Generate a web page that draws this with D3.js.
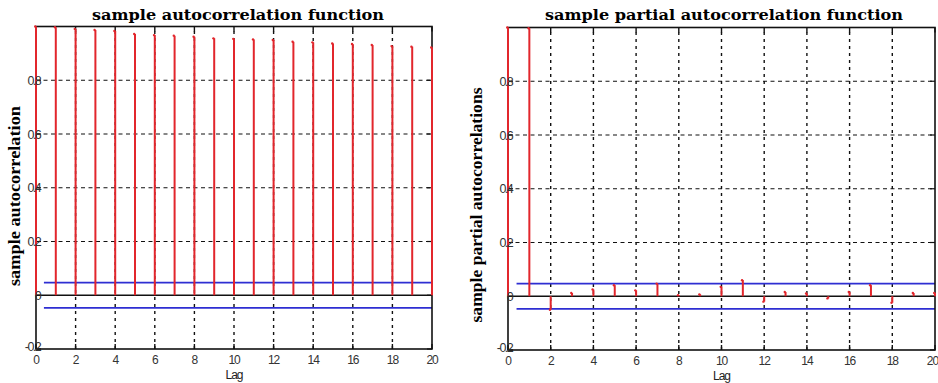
<!DOCTYPE html>
<html>
<head>
<meta charset="utf-8">
<script src="https://cdn.jsdelivr.net/npm/d3@7/dist/d3.min.js"></script>
<style>
  html, body { margin: 0; padding: 0; background: #fff; }
  svg { display: block; }
</style>
</head>
<body>
<svg id="chart" width="938" height="383"></svg>
<script>
// Lags 0..20
const lags = d3.range(0, 21);

// Sample autocorrelation (ACF)
const acfValues = [1.000, 0.997, 0.991, 0.987, 0.983, 0.972, 0.968, 0.966, 0.962, 0.956,
                   0.954, 0.952, 0.950, 0.943, 0.941, 0.937, 0.935, 0.931, 0.927, 0.925, 0.922];

// Sample partial autocorrelation (PACF)
const pacfValues = [1.000, 0.997, -0.050, 0.012, 0.025, 0.041, 0.022, 0.047, 0.004, 0.007,
                    0.035, 0.060, -0.020, 0.016, 0.010, -0.008, 0.016, 0.041, -0.024, 0.012, 0.012];

// Approximate 95% confidence bounds
const upperBound = 0.047;
const lowerBound = -0.047;
const boundStartLag = 0.4;

const xTicks = [0, 2, 4, 6, 8, 10, 12, 14, 16, 18, 20];
const xTickLabels = ["0", "2", "4", "6", "8", "10", "12", "14", "16", "18", "20"];
const yTicks = [-0.2, 0, 0.2, 0.4, 0.6, 0.8];
const yTickLabels = ["-0.2", "0", "0.2", "0.4", "0.6", "0.8"];
const gridY = [0.2, 0.4, 0.6, 0.8];
const gridX = [2, 4, 6, 8, 10, 12, 14, 16, 18];

const titles = ["sample autocorrelation function", "sample partial autocorrelation function"];
const yLabels = ["sample autocorrelation", "sample partial autocorrelations"];
const xLabel = "Lag";

const svg = d3.select("#chart");

const panels = [
  { values: acfValues, title: titles[0], ylabel: yLabels[0],
    x0: 36, x1: 432, yTop: 26.5, yBot: 349,
    titleX: 238, titleW: 292, ylabX: 20, ylabY: 196, ylabW: 180 },
  { values: pacfValues, title: titles[1], ylabel: yLabels[1],
    x0: 508, x1: 935, yTop: 27.5, yBot: 350,
    titleX: 724, titleW: 358, ylabX: 482, ylabY: 205, ylabW: 235 }
];

const RED = "#e2262c";
const BLUE = "#2e2ed2";
const TICKFONT = "Liberation Sans, Arial, sans-serif";

panels.forEach(p => {
  const x = d3.scaleLinear().domain([0, 20]).range([p.x0, p.x1]);
  const y = d3.scaleLinear().domain([-0.2, 1]).range([p.yBot, p.yTop]);
  const g = svg.append("g");

  // dashed grid
  g.selectAll("line.gy").data(gridY).join("line")
    .attr("x1", p.x0).attr("x2", p.x1)
    .attr("y1", d => y(d)).attr("y2", d => y(d))
    .attr("stroke", "#111").attr("stroke-width", 1.2)
    .attr("stroke-dasharray", "4,3.5");
  g.selectAll("line.gx").data(gridX).join("line")
    .attr("x1", d => x(d)).attr("x2", d => x(d))
    .attr("y1", y(-0.2)).attr("y2", y(1))
    .attr("stroke", "#111").attr("stroke-width", 1.4)
    .attr("stroke-dasharray", "3,4");

  // inward tick marks on all four sides
  const tl = 5;
  xTicks.forEach(t => {
    g.append("line").attr("x1", x(t)).attr("x2", x(t))
      .attr("y1", y(1)).attr("y2", y(1) + tl).attr("stroke", "#111").attr("stroke-width", 1.4);
    g.append("line").attr("x1", x(t)).attr("x2", x(t))
      .attr("y1", y(-0.2)).attr("y2", y(-0.2) - tl).attr("stroke", "#111").attr("stroke-width", 1.4);
  });
  yTicks.forEach(t => {
    g.append("line").attr("x1", p.x0).attr("x2", p.x0 + tl)
      .attr("y1", y(t)).attr("y2", y(t)).attr("stroke", "#111").attr("stroke-width", 1.2);
    g.append("line").attr("x1", p.x1).attr("x2", p.x1 - tl)
      .attr("y1", y(t)).attr("y2", y(t)).attr("stroke", "#111").attr("stroke-width", 1.2);
  });

  // confidence bounds
  [upperBound, lowerBound].forEach(b => {
    g.append("line")
      .attr("x1", x(boundStartLag)).attr("x2", p.x1)
      .attr("y1", y(b)).attr("y2", y(b))
      .attr("stroke", BLUE).attr("stroke-width", 1.6);
  });

  // zero line
  g.append("line").attr("x1", p.x0).attr("x2", p.x1)
    .attr("y1", y(0)).attr("y2", y(0))
    .attr("stroke", "#111").attr("stroke-width", 1.6);

  // axes box
  g.append("rect").attr("x", p.x0).attr("y", y(1))
    .attr("width", p.x1 - p.x0).attr("height", y(-0.2) - y(1))
    .attr("fill", "none").attr("stroke", "#111").attr("stroke-width", 1.6);

  // stems (drawn over the box so lag 0 stays visible)
  g.selectAll("line.stem").data(lags).join("line")
    .attr("x1", d => x(d)).attr("x2", d => x(d))
    .attr("y1", y(0)).attr("y2", d => y(p.values[d]))
    .attr("stroke", RED).attr("stroke-width", 2);
  g.selectAll("circle.mk").data(lags).join("circle")
    .attr("cx", d => x(d) - 0.8).attr("cy", d => y(p.values[d]))
    .attr("r", 1.2).attr("fill", RED);

  // tick labels
  g.selectAll("text.xt").data(xTicks).join("text")
    .attr("x", d => (d === 20 && p.x1 > 900) ? 938 : x(d))
    .attr("y", p.yBot + 14.5)
    .attr("text-anchor", d => (d === 20 && p.x1 > 900) ? "end" : "middle")
    .attr("font-family", TICKFONT)
    .attr("font-size", 12).attr("letter-spacing", -1.1)
    .attr("fill", "#333")
    .text((d, i) => xTickLabels[i]);
  g.selectAll("text.yt").data(yTicks).join("text")
    .attr("x", p.x0 + 4).attr("y", d => y(d) + (d < 0 ? 2 : 4.5))
    .attr("text-anchor", "end")
    .attr("font-family", TICKFONT)
    .attr("font-size", 12.5).attr("letter-spacing", -1.6)
    .attr("fill", "#333")
    .text((d, i) => yTickLabels[i]);

  // x label
  g.append("text").attr("x", (p.x0 + p.x1) / 2).attr("y", p.yBot + 29.5)
    .attr("text-anchor", "middle")
    .attr("font-family", TICKFONT)
    .attr("font-size", 12).attr("letter-spacing", -1).attr("fill", "#222")
    .text(xLabel);

  // title
  g.append("text").attr("x", p.titleX).attr("y", 20)
    .attr("text-anchor", "middle")
    .attr("font-family", "DejaVu Serif, serif").attr("font-weight", "bold")
    .attr("font-size", 14.5).attr("fill", "#000")
    .attr("textLength", p.titleW).attr("lengthAdjust", "spacingAndGlyphs")
    .text(p.title);

  // y label
  g.append("text")
    .attr("transform", `translate(${p.ylabX},${p.ylabY}) rotate(-90)`)
    .attr("text-anchor", "middle")
    .attr("font-family", "Liberation Serif, serif").attr("font-weight", "bold")
    .attr("font-size", 16).attr("fill", "#000")
    .attr("textLength", p.ylabW).attr("lengthAdjust", "spacingAndGlyphs")
    .text(p.ylabel);
});
</script>
</body>
</html>
